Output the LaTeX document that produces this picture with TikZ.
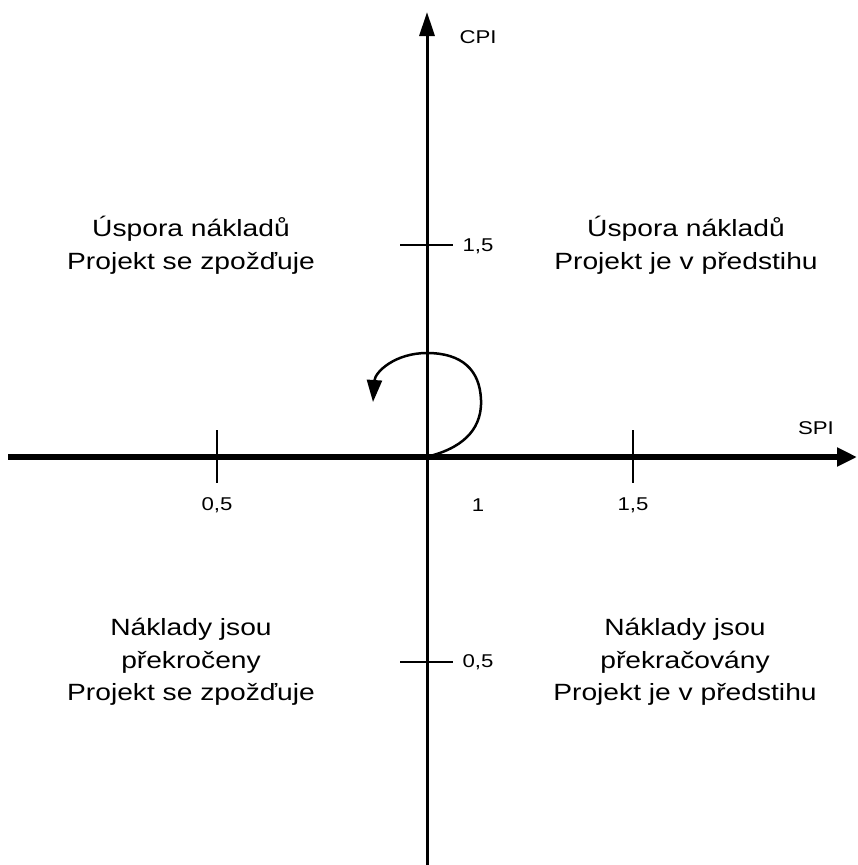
\documentclass[tikz,border=0pt]{standalone}
\usepackage{fontspec}
\setmainfont[FakeStretch=1.2]{Liberation Sans}
\usepackage{tikz}
\usetikzlibrary{arrows.meta}

\begin{document}
\begin{tikzpicture}[x=1pt, y=-1pt,
  quad/.style={align=center, inner sep=0pt, font=\fontsize{23.5}{32.5}\selectfont},
  lbl/.style={inner sep=0pt, font=\fontsize{18.5}{22}\selectfont},
  tick/.style={line width=1.3pt},
  xaxis/.style={-{Triangle[length=20pt,width=18pt]}, line width=5.5pt},
  yaxis/.style={-{Triangle[length=24pt,width=15pt]}, line width=3pt},
  turn/.style={-{Triangle[length=22pt,width=15pt]}, line width=2.5pt}]
\useasboundingbox (0,0) rectangle (857,865);
\coordinate (o) at (427,457);
\coordinate (xl) at (8,457);
\coordinate (xr) at (857,457);
\coordinate (yb) at (427,865);
\coordinate (yt) at (427,12);
% axes
\draw[xaxis] (xl) -- (xr);
\draw[yaxis] (yb) -- (yt);
% ticks
\coordinate (x05) at (217,457);
\coordinate (x15) at (633,457);
\coordinate (y15) at (427,245);
\coordinate (y05) at (427,662);
\draw[tick] (x05) ++(0,-27) -- ++(0,53);
\draw[tick] (x15) ++(0,-27) -- ++(0,53);
\draw[tick] (y15) ++(-27,0) -- ++(53,0);
\draw[tick] (y05) ++(-27,0) -- ++(53,0);
\node[lbl] (spi) at (816,428) {SPI};
\node[lbl] (cpi) at (478,37) {CPI};
\node[lbl] (lx05) at (217,505) {0,5};
\node[lbl] (lx1) at (478,505) {1};
\node[lbl] (lx15) at (633,505) {1,5};
\node[lbl] (ly15) at (478,246) {1,5};
\node[lbl] (ly05) at (478,662) {0,5};
% quadrants
\node[quad] (tl) at (191,245) {Úspora nákladů\\Projekt se zpožďuje};
\node[quad] (tr) at (686,245) {Úspora nákladů\\Projekt je v předstihu};
\node[quad] (bl) at (191,662) {Náklady jsou\\překročeny\\Projekt se zpožďuje};
\node[quad] (br) at (685,662) {Náklady jsou\\překračovány\\Projekt je v předstihu};
% loop
\coordinate (ls) at (430,456);
\coordinate (le) at (373,402);
\draw[turn] (ls) .. controls (468,446) and (482,425) .. (481,400)
  .. controls (480,370) and (462,353) .. (427,353)
  .. controls (395,353) and (375,372) .. (le);
\end{tikzpicture}
\end{document}
